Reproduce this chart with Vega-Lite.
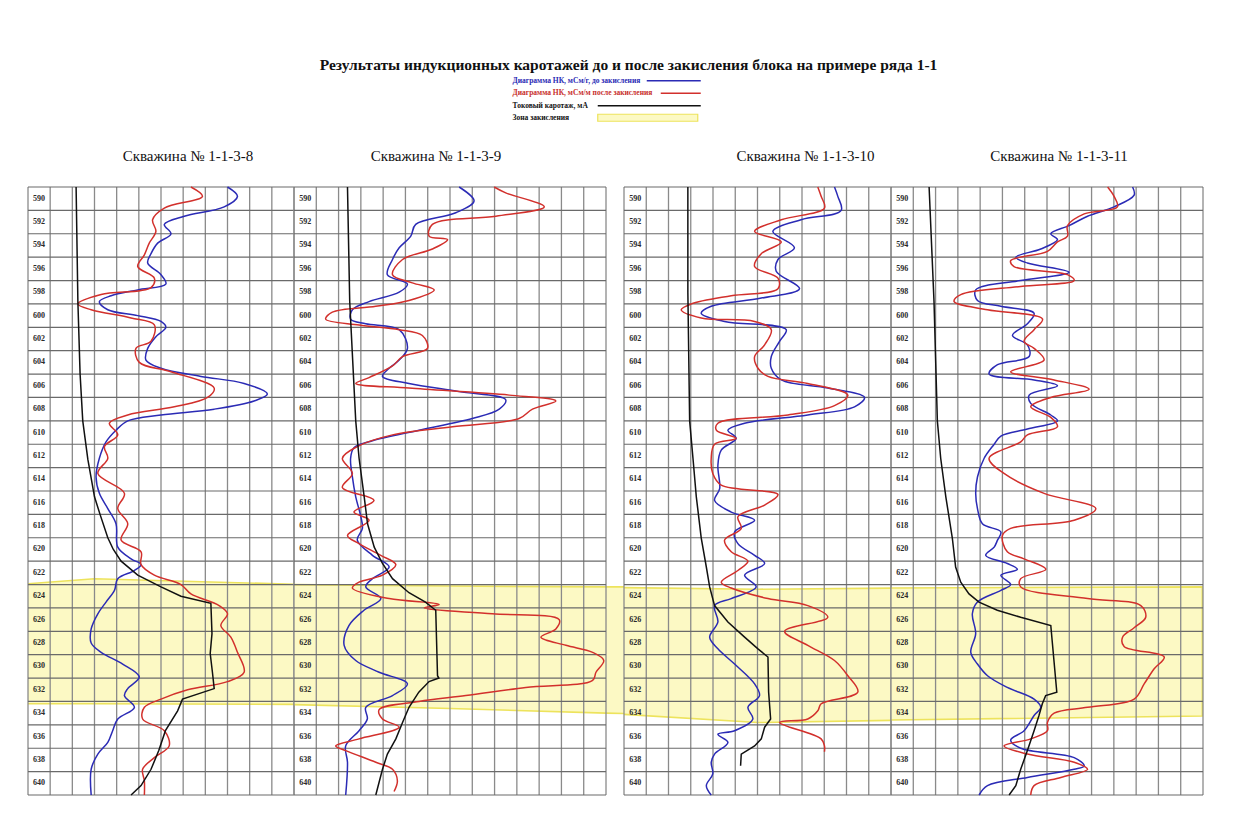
{
  "$schema": "https://vega.github.io/schema/vega-lite/v6.json",
  "padding": {"left": 27, "top": 57, "right": 0, "bottom": 0},
  "background": "white",
  "title": {
    "text": "Результаты индукционных каротажей до и после закисления блока на примере ряда 1-1",
    "font": "Liberation Serif", "fontSize": 15.5, "fontWeight": "bold", "color": "#111111",
    "anchor": "middle", "dx": 13, "offset": 4
  },
  "config": {
    "view": {"stroke": null},
    "title": {"font": "Liberation Serif", "fontSize": 15, "fontWeight": "normal", "color": "#111111", "offset": 20}
  },
  "resolve": {"scale": {"stroke": "shared", "fill": "shared"}, "legend": {"stroke": "shared", "fill": "shared"}},
  "spacing": 0,
  "bounds": "flush",
  "datasets": {
    "depth_labels": [
      {"depth": 590}, {"depth": 592}, {"depth": 594}, {"depth": 596}, {"depth": 598}, {"depth": 600},
      {"depth": 602}, {"depth": 604}, {"depth": 606}, {"depth": 608}, {"depth": 610}, {"depth": 612},
      {"depth": 614}, {"depth": 616}, {"depth": 618}, {"depth": 620}, {"depth": 622}, {"depth": 624},
      {"depth": 626}, {"depth": 628}, {"depth": 630}, {"depth": 632}, {"depth": 634}, {"depth": 636},
      {"depth": 638}, {"depth": 640}
    ],
    "row_lines": [
      {"depth": 589}, {"depth": 591}, {"depth": 593}, {"depth": 595}, {"depth": 597}, {"depth": 599},
      {"depth": 601}, {"depth": 603}, {"depth": 605}, {"depth": 607}, {"depth": 609}, {"depth": 611},
      {"depth": 613}, {"depth": 615}, {"depth": 617}, {"depth": 619}, {"depth": 621}, {"depth": 623},
      {"depth": 625}, {"depth": 627}, {"depth": 629}, {"depth": 631}, {"depth": 633}, {"depth": 635},
      {"depth": 637}, {"depth": 639}, {"depth": 641}
    ],
    "cols_12": [
      {"col": 0}, {"col": 1}, {"col": 2}, {"col": 3}, {"col": 4}, {"col": 5}, {"col": 6},
      {"col": 7}, {"col": 8}, {"col": 9}, {"col": 10}, {"col": 11}, {"col": 12}
    ],
    "cols_14": [
      {"col": 0}, {"col": 1}, {"col": 2}, {"col": 3}, {"col": 4}, {"col": 5}, {"col": 6},
      {"col": 7}, {"col": 8}, {"col": 9}, {"col": 10}, {"col": 11}, {"col": 12}, {"col": 13}, {"col": 14}
    ],
    "zone_8": [
      {"pos": -0.5, "top": 623.0, "bottom": 633.2},
      {"pos": 3, "top": 622.5, "bottom": 633.2},
      {"pos": 12.5, "top": 623.0, "bottom": 633.25}
    ],
    "zone_9": [
      {"pos": -0.5, "top": 623.0, "bottom": 633.25},
      {"pos": 7, "top": 623.13, "bottom": 633.6},
      {"pos": 14, "top": 623.2, "bottom": 634.0},
      {"pos": 15.5, "top": 623.2, "bottom": 634.05}
    ],
    "zone_10": [
      {"pos": -0.5, "top": 623.25, "bottom": 634.05},
      {"pos": 6, "top": 623.4, "bottom": 634.8},
      {"pos": 12.5, "top": 623.3, "bottom": 634.6}
    ],
    "zone_11": [
      {"pos": -0.5, "top": 623.3, "bottom": 634.6},
      {"pos": 13.97, "top": 623.2, "bottom": 634.25}
    ],
    "w8_before": [
      {"depth": 589, "value": 9.0}, {"depth": 589.8, "value": 9.45}, {"depth": 590.7, "value": 8.85},
      {"depth": 591.5, "value": 7.05}, {"depth": 592.2, "value": 6.15}, {"depth": 593, "value": 6.45},
      {"depth": 593.8, "value": 5.85}, {"depth": 594.7, "value": 5.55}, {"depth": 595.5, "value": 5.4},
      {"depth": 596.5, "value": 6.0}, {"depth": 597.3, "value": 6.22}, {"depth": 597.8, "value": 4.95},
      {"depth": 598.3, "value": 3.75}, {"depth": 598.8, "value": 3.22}, {"depth": 599.5, "value": 3.6},
      {"depth": 600, "value": 4.95}, {"depth": 600.5, "value": 6.0}, {"depth": 601, "value": 6.22},
      {"depth": 601.8, "value": 5.77}, {"depth": 602.8, "value": 5.4}, {"depth": 603.8, "value": 5.32},
      {"depth": 604.5, "value": 6.0}, {"depth": 605.2, "value": 7.8}, {"depth": 605.8, "value": 9.75},
      {"depth": 606.7, "value": 10.8}, {"depth": 607.3, "value": 10.2}, {"depth": 608, "value": 8.4},
      {"depth": 608.5, "value": 6.0}, {"depth": 609, "value": 4.5}, {"depth": 609.8, "value": 3.97},
      {"depth": 610.8, "value": 3.52}, {"depth": 612.2, "value": 3.22}, {"depth": 613.8, "value": 3.07},
      {"depth": 615.2, "value": 3.22}, {"depth": 616.5, "value": 3.6}, {"depth": 617.8, "value": 3.97},
      {"depth": 619.8, "value": 4.05}, {"depth": 620.8, "value": 4.65}, {"depth": 621.3, "value": 5.1},
      {"depth": 621.8, "value": 4.8}, {"depth": 622.5, "value": 4.05}, {"depth": 623.5, "value": 3.9},
      {"depth": 624.5, "value": 3.52}, {"depth": 625.5, "value": 3.15}, {"depth": 626.8, "value": 2.85},
      {"depth": 628, "value": 2.85}, {"depth": 628.8, "value": 3.3}, {"depth": 629.8, "value": 4.27},
      {"depth": 630.9, "value": 5.02}, {"depth": 631.9, "value": 4.5}, {"depth": 632.5, "value": 4.35},
      {"depth": 633.5, "value": 4.8}, {"depth": 634.5, "value": 4.05}, {"depth": 635.5, "value": 3.82},
      {"depth": 636.5, "value": 3.6}, {"depth": 637.5, "value": 3.15}, {"depth": 638.8, "value": 2.85},
      {"depth": 641, "value": 2.85}
    ],
    "w8_after": [
      {"depth": 589, "value": 7.35}, {"depth": 589.8, "value": 7.87}, {"depth": 590.8, "value": 6.15},
      {"depth": 591.8, "value": 5.62}, {"depth": 592.8, "value": 5.77}, {"depth": 593.8, "value": 5.47},
      {"depth": 594.8, "value": 5.25}, {"depth": 595.8, "value": 4.95}, {"depth": 596.8, "value": 5.7},
      {"depth": 597.6, "value": 5.55}, {"depth": 598.2, "value": 3.3}, {"depth": 599, "value": 2.25},
      {"depth": 599.5, "value": 2.85}, {"depth": 600.2, "value": 4.65}, {"depth": 600.8, "value": 5.7},
      {"depth": 602.2, "value": 5.55}, {"depth": 602.8, "value": 4.87}, {"depth": 604, "value": 5.02},
      {"depth": 604.8, "value": 6.45}, {"depth": 606.2, "value": 8.4}, {"depth": 607, "value": 8.1},
      {"depth": 607.8, "value": 6.6}, {"depth": 608.5, "value": 4.5}, {"depth": 609.2, "value": 3.67},
      {"depth": 610.2, "value": 4.05}, {"depth": 611.2, "value": 3.45}, {"depth": 612.2, "value": 3.6},
      {"depth": 613.5, "value": 3.15}, {"depth": 615.2, "value": 4.35}, {"depth": 616.5, "value": 4.05},
      {"depth": 617.8, "value": 4.5}, {"depth": 619.2, "value": 4.2}, {"depth": 620.2, "value": 5.1},
      {"depth": 621.3, "value": 5.1}, {"depth": 622.2, "value": 5.7}, {"depth": 623, "value": 6.9},
      {"depth": 623.8, "value": 7.35}, {"depth": 624.8, "value": 8.62}, {"depth": 625.5, "value": 9.0},
      {"depth": 626.5, "value": 8.7}, {"depth": 627.5, "value": 9.15}, {"depth": 628.8, "value": 9.45},
      {"depth": 630.5, "value": 9.75}, {"depth": 631.3, "value": 9.0}, {"depth": 632, "value": 7.2},
      {"depth": 632.8, "value": 6.0}, {"depth": 633.5, "value": 5.25}, {"depth": 634.5, "value": 5.17},
      {"depth": 635.5, "value": 6.15}, {"depth": 636.8, "value": 6.37}, {"depth": 637.8, "value": 5.7},
      {"depth": 638.8, "value": 5.17}, {"depth": 639.8, "value": 5.25}, {"depth": 641, "value": 5.25}
    ],
    "w8_current": [
      {"depth": 589, "value": 2.17}, {"depth": 598.8, "value": 2.25}, {"depth": 605, "value": 2.35},
      {"depth": 609, "value": 2.47}, {"depth": 612.3, "value": 2.7}, {"depth": 615.5, "value": 3.0},
      {"depth": 617, "value": 3.25}, {"depth": 619, "value": 3.6}, {"depth": 620, "value": 3.85},
      {"depth": 621, "value": 4.2}, {"depth": 622.2, "value": 4.95}, {"depth": 623.2, "value": 6.0},
      {"depth": 624, "value": 6.9}, {"depth": 624.6, "value": 8.25}, {"depth": 627.2, "value": 8.3},
      {"depth": 628.9, "value": 8.22}, {"depth": 630.5, "value": 8.32}, {"depth": 631.9, "value": 8.4},
      {"depth": 632.8, "value": 6.97}, {"depth": 633.8, "value": 6.75}, {"depth": 635.5, "value": 6.2},
      {"depth": 637.2, "value": 5.9}, {"depth": 638.8, "value": 5.55}, {"depth": 640.2, "value": 5.1},
      {"depth": 641, "value": 4.65}
    ],
    "w9_before": [
      {"depth": 589, "value": 7.41}, {"depth": 590.2, "value": 8.08}, {"depth": 591.2, "value": 7.26},
      {"depth": 592.2, "value": 5.46}, {"depth": 593.2, "value": 5.24}, {"depth": 594.2, "value": 4.72},
      {"depth": 595.2, "value": 4.42}, {"depth": 596.5, "value": 4.19}, {"depth": 597.3, "value": 5.09},
      {"depth": 598, "value": 4.72}, {"depth": 598.8, "value": 3.37}, {"depth": 599.5, "value": 2.62},
      {"depth": 600.3, "value": 2.54}, {"depth": 600.7, "value": 3.22}, {"depth": 601.2, "value": 4.72},
      {"depth": 602.8, "value": 5.09}, {"depth": 603.8, "value": 4.72}, {"depth": 604.5, "value": 4.27},
      {"depth": 605.2, "value": 3.97}, {"depth": 605.8, "value": 5.16}, {"depth": 606.5, "value": 7.41},
      {"depth": 607.2, "value": 9.5}, {"depth": 608, "value": 9.21}, {"depth": 608.8, "value": 8.0},
      {"depth": 609.8, "value": 5.61}, {"depth": 610.7, "value": 3.52}, {"depth": 611.3, "value": 2.69},
      {"depth": 612.2, "value": 2.54}, {"depth": 613.8, "value": 2.62}, {"depth": 615.5, "value": 2.77},
      {"depth": 617.2, "value": 3.0}, {"depth": 618.2, "value": 3.07}, {"depth": 619.2, "value": 2.84},
      {"depth": 620.5, "value": 3.52}, {"depth": 621.5, "value": 4.27}, {"depth": 622.5, "value": 3.52},
      {"depth": 623.2, "value": 3.22}, {"depth": 624.2, "value": 3.9}, {"depth": 625.2, "value": 3.14},
      {"depth": 626.5, "value": 2.47}, {"depth": 628.2, "value": 2.25}, {"depth": 629.5, "value": 2.77},
      {"depth": 630.5, "value": 3.82}, {"depth": 631.5, "value": 5.09}, {"depth": 632.5, "value": 4.42},
      {"depth": 633.5, "value": 3.22}, {"depth": 634.5, "value": 3.29}, {"depth": 635.5, "value": 2.92},
      {"depth": 636.8, "value": 2.32}, {"depth": 638.2, "value": 2.4}, {"depth": 641, "value": 2.32}
    ],
    "w9_after": [
      {"depth": 589, "value": 8.98}, {"depth": 589.5, "value": 9.5}, {"depth": 590.7, "value": 11.23},
      {"depth": 591.5, "value": 9.06}, {"depth": 592.2, "value": 6.21}, {"depth": 593.2, "value": 6.06},
      {"depth": 593.5, "value": 6.89}, {"depth": 594.3, "value": 6.21}, {"depth": 595.2, "value": 4.87},
      {"depth": 596.5, "value": 4.42}, {"depth": 597.2, "value": 5.31}, {"depth": 597.8, "value": 6.29},
      {"depth": 598.7, "value": 5.16}, {"depth": 599.2, "value": 3.67}, {"depth": 599.7, "value": 1.72},
      {"depth": 600.3, "value": 1.42}, {"depth": 600.8, "value": 2.92}, {"depth": 601.2, "value": 4.72},
      {"depth": 601.7, "value": 5.76}, {"depth": 602.8, "value": 5.99}, {"depth": 603.5, "value": 4.87},
      {"depth": 604.3, "value": 4.42}, {"depth": 605.3, "value": 3.37}, {"depth": 605.8, "value": 2.77},
      {"depth": 606.2, "value": 5.16}, {"depth": 606.8, "value": 9.66}, {"depth": 607.3, "value": 11.75},
      {"depth": 608, "value": 10.7}, {"depth": 608.8, "value": 10.1}, {"depth": 609.5, "value": 7.11},
      {"depth": 610.2, "value": 4.42}, {"depth": 611.2, "value": 2.84}, {"depth": 612.2, "value": 2.17},
      {"depth": 613.5, "value": 2.62}, {"depth": 614.7, "value": 2.17}, {"depth": 615.8, "value": 3.59},
      {"depth": 616.8, "value": 2.69}, {"depth": 617.5, "value": 3.37}, {"depth": 618.8, "value": 2.4},
      {"depth": 619.5, "value": 2.92}, {"depth": 620.5, "value": 3.89}, {"depth": 621.3, "value": 4.57},
      {"depth": 622.2, "value": 3.97}, {"depth": 622.8, "value": 2.92}, {"depth": 623.3, "value": 2.62},
      {"depth": 624.2, "value": 4.27}, {"depth": 624.7, "value": 6.51}, {"depth": 625, "value": 5.84},
      {"depth": 625.5, "value": 8.9}, {"depth": 626, "value": 11.9}, {"depth": 626.8, "value": 11.75},
      {"depth": 627.5, "value": 11.08}, {"depth": 628.2, "value": 12.2}, {"depth": 628.8, "value": 13.4},
      {"depth": 629.5, "value": 13.9}, {"depth": 630.5, "value": 13.55}, {"depth": 631.2, "value": 13.4},
      {"depth": 631.8, "value": 10.4}, {"depth": 632.5, "value": 7.71}, {"depth": 633, "value": 5.61},
      {"depth": 633.7, "value": 3.82}, {"depth": 634.5, "value": 3.97}, {"depth": 635.2, "value": 4.72},
      {"depth": 636.2, "value": 2.92}, {"depth": 636.8, "value": 1.87}, {"depth": 637.2, "value": 2.32},
      {"depth": 638.2, "value": 3.67}, {"depth": 638.8, "value": 4.42}, {"depth": 639.8, "value": 4.64},
      {"depth": 640.7, "value": 4.49}
    ],
    "w9_current": [
      {"depth": 589, "value": 2.4}, {"depth": 598.8, "value": 2.5}, {"depth": 609, "value": 2.77},
      {"depth": 612.2, "value": 2.92}, {"depth": 615.5, "value": 3.15}, {"depth": 617.8, "value": 3.3},
      {"depth": 619.8, "value": 3.6}, {"depth": 621.2, "value": 3.97}, {"depth": 622.5, "value": 4.42},
      {"depth": 623.7, "value": 5.16}, {"depth": 624.5, "value": 5.9}, {"depth": 625.2, "value": 6.36},
      {"depth": 630.8, "value": 6.44}, {"depth": 631, "value": 6.5}, {"depth": 631.3, "value": 6.06},
      {"depth": 632.2, "value": 5.6}, {"depth": 633.5, "value": 5.16}, {"depth": 634.8, "value": 4.87},
      {"depth": 636.2, "value": 4.57}, {"depth": 637.5, "value": 4.19}, {"depth": 638.8, "value": 3.97},
      {"depth": 641, "value": 3.67}
    ],
    "w10_before": [
      {"depth": 589, "value": 9.46}, {"depth": 589.8, "value": 9.61}, {"depth": 591, "value": 9.76},
      {"depth": 591.8, "value": 7.96}, {"depth": 592.8, "value": 6.69}, {"depth": 594.2, "value": 7.66},
      {"depth": 595.2, "value": 6.92}, {"depth": 596.2, "value": 6.84}, {"depth": 597.7, "value": 7.89},
      {"depth": 598.5, "value": 6.17}, {"depth": 599.2, "value": 3.92}, {"depth": 599.8, "value": 3.47},
      {"depth": 600.5, "value": 4.52}, {"depth": 601.2, "value": 7.29}, {"depth": 602.2, "value": 6.99},
      {"depth": 603.5, "value": 6.62}, {"depth": 604.5, "value": 6.62}, {"depth": 605.5, "value": 7.07},
      {"depth": 606.2, "value": 9.16}, {"depth": 607, "value": 10.81}, {"depth": 607.8, "value": 10.36},
      {"depth": 608.5, "value": 8.26}, {"depth": 609.2, "value": 5.42}, {"depth": 609.8, "value": 4.67},
      {"depth": 610.5, "value": 5.04}, {"depth": 611.5, "value": 4.37}, {"depth": 612.8, "value": 4.22},
      {"depth": 614.8, "value": 4.3}, {"depth": 615.8, "value": 4.07}, {"depth": 616.8, "value": 4.82},
      {"depth": 617.5, "value": 5.87}, {"depth": 618.5, "value": 4.97}, {"depth": 619.5, "value": 5.12},
      {"depth": 620.5, "value": 5.87}, {"depth": 621.2, "value": 6.32}, {"depth": 622.2, "value": 5.42},
      {"depth": 623.2, "value": 5.94}, {"depth": 624.2, "value": 4.82}, {"depth": 624.8, "value": 4.07},
      {"depth": 626.2, "value": 4.22}, {"depth": 627.5, "value": 3.85}, {"depth": 628.5, "value": 4.22},
      {"depth": 629.8, "value": 4.97}, {"depth": 631.5, "value": 5.87}, {"depth": 632.5, "value": 6.09},
      {"depth": 633.5, "value": 5.57}, {"depth": 634.5, "value": 5.79}, {"depth": 635.5, "value": 4.97},
      {"depth": 635.8, "value": 4.22}, {"depth": 636.5, "value": 4.67}, {"depth": 637.5, "value": 4.07},
      {"depth": 638.2, "value": 3.92}, {"depth": 639.2, "value": 3.99}, {"depth": 640.2, "value": 3.7},
      {"depth": 641, "value": 3.92}
    ],
    "w10_after": [
      {"depth": 589, "value": 8.71}, {"depth": 589.8, "value": 8.86}, {"depth": 590.8, "value": 9.01},
      {"depth": 591.8, "value": 7.07}, {"depth": 592.8, "value": 5.87}, {"depth": 593.7, "value": 7.07},
      {"depth": 594.7, "value": 6.17}, {"depth": 595.8, "value": 5.87}, {"depth": 596.8, "value": 6.92},
      {"depth": 597.7, "value": 6.92}, {"depth": 598.3, "value": 4.82}, {"depth": 599, "value": 3.02},
      {"depth": 599.5, "value": 2.57}, {"depth": 600.2, "value": 3.47}, {"depth": 600.5, "value": 5.87},
      {"depth": 601.2, "value": 6.62}, {"depth": 602.5, "value": 6.32}, {"depth": 603.5, "value": 5.87},
      {"depth": 604.5, "value": 6.02}, {"depth": 605.2, "value": 6.47}, {"depth": 605.8, "value": 8.26},
      {"depth": 606.8, "value": 10.06}, {"depth": 607.7, "value": 9.46}, {"depth": 608.5, "value": 7.37},
      {"depth": 609.2, "value": 4.22}, {"depth": 609.8, "value": 4.15}, {"depth": 610.5, "value": 5.04},
      {"depth": 611, "value": 4.07}, {"depth": 612.2, "value": 3.92}, {"depth": 613.5, "value": 3.99},
      {"depth": 614.5, "value": 4.37}, {"depth": 615.3, "value": 6.92}, {"depth": 616.2, "value": 6.32},
      {"depth": 617.2, "value": 5.12}, {"depth": 618.2, "value": 5.27}, {"depth": 619.2, "value": 4.52},
      {"depth": 620.2, "value": 4.82}, {"depth": 621, "value": 5.57}, {"depth": 621.8, "value": 5.12},
      {"depth": 622.8, "value": 4.37}, {"depth": 623.3, "value": 4.82}, {"depth": 624.2, "value": 6.47},
      {"depth": 624.8, "value": 8.26}, {"depth": 625.8, "value": 9.16}, {"depth": 627, "value": 7.22},
      {"depth": 628.2, "value": 8.26}, {"depth": 629.5, "value": 9.46}, {"depth": 630.8, "value": 10.06},
      {"depth": 632.2, "value": 10.51}, {"depth": 633.2, "value": 8.86}, {"depth": 633.8, "value": 8.71},
      {"depth": 634.5, "value": 8.26}, {"depth": 634.8, "value": 6.99}, {"depth": 636.2, "value": 8.86},
      {"depth": 636.8, "value": 9.01}, {"depth": 637.3, "value": 9.01}
    ],
    "w10_current": [
      {"depth": 589, "value": 2.87}, {"depth": 598, "value": 2.87}, {"depth": 609, "value": 2.95},
      {"depth": 612.2, "value": 3.1}, {"depth": 615.5, "value": 3.25}, {"depth": 619, "value": 3.47},
      {"depth": 621.5, "value": 3.7}, {"depth": 623.2, "value": 3.85}, {"depth": 624.8, "value": 4.07},
      {"depth": 626.2, "value": 4.67}, {"depth": 627.5, "value": 5.42}, {"depth": 628.5, "value": 6.02},
      {"depth": 629.2, "value": 6.47}, {"depth": 632.2, "value": 6.5}, {"depth": 634.5, "value": 6.59},
      {"depth": 635.2, "value": 6.32}, {"depth": 636.2, "value": 6.17}, {"depth": 636.8, "value": 5.87},
      {"depth": 637.5, "value": 5.27}, {"depth": 638.5, "value": 5.24}
    ],
    "w11_before": [
      {"depth": 589, "value": 10.84}, {"depth": 589.7, "value": 10.91}, {"depth": 590.7, "value": 10.01},
      {"depth": 591.5, "value": 8.82}, {"depth": 592.3, "value": 7.99}, {"depth": 593, "value": 7.17},
      {"depth": 593.5, "value": 7.47}, {"depth": 594.3, "value": 6.72}, {"depth": 595, "value": 5.6},
      {"depth": 595.5, "value": 6.12}, {"depth": 596.3, "value": 7.99}, {"depth": 597, "value": 5.82},
      {"depth": 597.8, "value": 3.8}, {"depth": 598.7, "value": 3.88}, {"depth": 599.2, "value": 4.93},
      {"depth": 599.8, "value": 6.42}, {"depth": 600.7, "value": 6.12}, {"depth": 601.7, "value": 5.45},
      {"depth": 602.5, "value": 6.12}, {"depth": 603.5, "value": 6.2}, {"depth": 604.2, "value": 4.78},
      {"depth": 605, "value": 4.4}, {"depth": 605.5, "value": 6.42}, {"depth": 606, "value": 7.47},
      {"depth": 606.8, "value": 6.2}, {"depth": 607.5, "value": 6.27}, {"depth": 608.5, "value": 7.17},
      {"depth": 609, "value": 7.47}, {"depth": 609.7, "value": 6.12}, {"depth": 610.3, "value": 4.93},
      {"depth": 611, "value": 4.63}, {"depth": 612.2, "value": 4.18}, {"depth": 613.8, "value": 3.88},
      {"depth": 615.2, "value": 3.8}, {"depth": 616.5, "value": 3.88}, {"depth": 617.8, "value": 4.1},
      {"depth": 618.5, "value": 4.93}, {"depth": 619.2, "value": 4.78}, {"depth": 619.8, "value": 4.63},
      {"depth": 620.5, "value": 4.25}, {"depth": 621.2, "value": 5.22}, {"depth": 621.7, "value": 5.67},
      {"depth": 622.2, "value": 4.93}, {"depth": 623, "value": 5.37}, {"depth": 623.5, "value": 4.93},
      {"depth": 624.5, "value": 3.88}, {"depth": 625.5, "value": 3.65}, {"depth": 627.2, "value": 3.8},
      {"depth": 628.8, "value": 3.58}, {"depth": 629.8, "value": 3.88}, {"depth": 630.8, "value": 4.33},
      {"depth": 631.8, "value": 5.22}, {"depth": 632.8, "value": 6.42}, {"depth": 633.5, "value": 6.72},
      {"depth": 634.2, "value": 6.42}, {"depth": 635.5, "value": 5.97}, {"depth": 636.3, "value": 5.37},
      {"depth": 637, "value": 5.82}, {"depth": 637.8, "value": 8.22}, {"depth": 638.5, "value": 8.67},
      {"depth": 638.8, "value": 8.22}, {"depth": 639.5, "value": 6.12}, {"depth": 640.2, "value": 4.33},
      {"depth": 641, "value": 3.95}
    ],
    "w11_after": [
      {"depth": 589, "value": 9.72}, {"depth": 589.8, "value": 10.01}, {"depth": 590.7, "value": 10.16},
      {"depth": 591.3, "value": 8.67}, {"depth": 592.3, "value": 7.92}, {"depth": 593.2, "value": 7.92},
      {"depth": 593.7, "value": 7.47}, {"depth": 594.5, "value": 7.02}, {"depth": 595.3, "value": 5.37},
      {"depth": 595.8, "value": 5.52}, {"depth": 596.5, "value": 7.92}, {"depth": 597, "value": 8.22},
      {"depth": 597.5, "value": 5.82}, {"depth": 598.2, "value": 3.13}, {"depth": 598.8, "value": 2.83},
      {"depth": 599.5, "value": 4.33}, {"depth": 600.3, "value": 6.8}, {"depth": 601.2, "value": 6.42},
      {"depth": 602.2, "value": 5.97}, {"depth": 602.8, "value": 6.42}, {"depth": 603.8, "value": 6.87},
      {"depth": 604.8, "value": 5.37}, {"depth": 605.5, "value": 7.32}, {"depth": 606.3, "value": 8.89},
      {"depth": 607, "value": 7.17}, {"depth": 607.8, "value": 6.27}, {"depth": 608.7, "value": 7.17},
      {"depth": 609.5, "value": 7.47}, {"depth": 610.2, "value": 6.12}, {"depth": 610.8, "value": 5.82},
      {"depth": 612.2, "value": 4.4}, {"depth": 613.5, "value": 5.07}, {"depth": 615.2, "value": 6.87},
      {"depth": 616.5, "value": 9.19}, {"depth": 617.5, "value": 8.22}, {"depth": 618.2, "value": 5.37},
      {"depth": 618.8, "value": 5.0}, {"depth": 620.2, "value": 5.22}, {"depth": 620.8, "value": 5.97},
      {"depth": 621.7, "value": 6.95}, {"depth": 622.5, "value": 5.82}, {"depth": 623.2, "value": 5.82},
      {"depth": 624.2, "value": 8.82}, {"depth": 624.8, "value": 11.21}, {"depth": 625.8, "value": 11.43},
      {"depth": 626.7, "value": 10.91}, {"depth": 627.5, "value": 10.39}, {"depth": 628.3, "value": 10.46},
      {"depth": 629.2, "value": 12.26}, {"depth": 630.2, "value": 11.81}, {"depth": 631.5, "value": 11.36},
      {"depth": 632.8, "value": 10.91}, {"depth": 633.5, "value": 8.82}, {"depth": 634, "value": 7.32},
      {"depth": 634.8, "value": 7.02}, {"depth": 635.5, "value": 7.02}, {"depth": 636.2, "value": 6.27},
      {"depth": 636.8, "value": 5.07}, {"depth": 637.5, "value": 6.12}, {"depth": 638.2, "value": 8.22},
      {"depth": 638.8, "value": 8.82}, {"depth": 639.5, "value": 7.62}, {"depth": 640.2, "value": 6.42},
      {"depth": 641, "value": 6.27}
    ],
    "w11_current": [
      {"depth": 589, "value": 1.71}, {"depth": 598.8, "value": 1.93}, {"depth": 609, "value": 2.08},
      {"depth": 612.2, "value": 2.23}, {"depth": 615.5, "value": 2.46}, {"depth": 619, "value": 2.75},
      {"depth": 621.5, "value": 2.9}, {"depth": 622.8, "value": 3.13}, {"depth": 623.8, "value": 3.5},
      {"depth": 624.5, "value": 3.95}, {"depth": 625.2, "value": 4.77}, {"depth": 625.8, "value": 5.82},
      {"depth": 626.5, "value": 7.17}, {"depth": 632.2, "value": 7.44}, {"depth": 632.5, "value": 6.94},
      {"depth": 633.2, "value": 6.79}, {"depth": 634.2, "value": 6.64}, {"depth": 635.5, "value": 6.42},
      {"depth": 637.2, "value": 6.12}, {"depth": 638.8, "value": 5.82}, {"depth": 640.2, "value": 5.6},
      {"depth": 641, "value": 5.3}
    ]
  },
  "hconcat": [
    {
      "width": 266, "height": 608,
      "title": {"text": "Скважина № 1-1-3-8", "dx": 27},
      "layer": [
        {
          "data": {"name": "zone_8"},
          "mark": {"type": "area", "clip": true, "stroke": "#ede35c", "strokeWidth": 1.6},
          "encoding": {
            "x": {"field": "pos", "type": "quantitative", "scale": {"domain": [0, 12], "nice": false, "zero": false}, "axis": null},
            "y": {"field": "top", "type": "quantitative", "scale": {"domain": [589, 641], "reverse": true, "nice": false, "zero": false}, "axis": null},
            "y2": {"field": "bottom"},
            "fill": {
              "datum": "zone",
              "scale": {"domain": ["zone"], "range": ["#fcf9c4"]},
              "legend": {
                "orient": "none", "legendX": 477, "legendY": -73, "title": null,
                "symbolSize": 4, "symbolStrokeWidth": 1.2, "symbolStrokeColor": "#e8df52", "labelOffset": 0,
                "labelFont": "Liberation Serif", "labelFontSize": 7.5, "labelFontWeight": "bold", "labelColor": "#111111",
                "symbolType": "M89,-3.5H189V3.5H89Z",
                "labelExpr": "'Зона закисления'"
              }
            }
          }
        },
        {
          "data": {"name": "cols_12"},
          "mark": {"type": "rule", "color": "#8a8a8a", "strokeWidth": 1.3},
          "encoding": {"x": {"field": "col", "type": "quantitative"}, "y": {"datum": 589}, "y2": {"datum": 641}}
        },
        {
          "data": {"name": "row_lines"},
          "mark": {"type": "rule", "color": "#6a6a6a", "strokeWidth": 1.2},
          "encoding": {"y": {"field": "depth", "type": "quantitative"}, "x": {"datum": 0}, "x2": {"datum": 12}}
        },
        {
          "data": {"name": "depth_labels"},
          "mark": {"type": "text", "font": "Liberation Serif", "fontSize": 8, "fontWeight": "bold", "fill": "#2a2a2a", "color": "#2a2a2a"},
          "encoding": {"y": {"field": "depth", "type": "quantitative"}, "x": {"datum": 0.5}, "text": {"field": "depth"}}
        },
        {
          "data": {"name": "w8_before"}, "mark": {"type": "line", "strokeWidth": 1.5, "interpolate": "catmull-rom"},
          "encoding": {"x": {"field": "value", "type": "quantitative"}, "y": {"field": "depth", "type": "quantitative"}, "order": {"field": "depth"},
            "stroke": {
              "datum": "before",
              "scale": {"domain": ["before", "after", "current"], "range": ["#2b2bb5", "#d2302c", "#111111"]},
              "legend": {
                "orient": "none", "legendX": 477, "legendY": -110, "title": null, "direction": "vertical",
                "symbolSize": 4, "symbolStrokeWidth": 1.5, "labelOffset": 0, "labelLimit": 300,
                "labelFont": "Liberation Serif", "labelFontSize": 7.5, "labelFontWeight": "bold", "rowPadding": 3.5,
                "symbolType": {"expr": "datum.value === 'before' ? 'M138,0H192' : datum.value === 'after' ? 'M152,0H192' : 'M89,0H192'"},
                "labelColor": {"expr": "datum.value === 'before' ? '#2b2bb5' : datum.value === 'after' ? '#c8302c' : '#111111'"},
                "labelExpr": "datum.value === 'before' ? 'Диаграмма НК, мСм/г, до закисления' : datum.value === 'after' ? 'Диаграмма НК, мСм/м после закисления' : 'Токовый каротаж, мА'"
              }
            }}
        },
        {
          "data": {"name": "w8_after"}, "mark": {"type": "line", "strokeWidth": 1.5, "interpolate": "catmull-rom"},
          "encoding": {"x": {"field": "value", "type": "quantitative"}, "y": {"field": "depth", "type": "quantitative"}, "order": {"field": "depth"},
            "stroke": {"datum": "after", "scale": {"domain": ["before", "after", "current"], "range": ["#2b2bb5", "#d2302c", "#111111"]}}}
        },
        {
          "data": {"name": "w8_current"}, "mark": {"type": "line", "strokeWidth": 1.5},
          "encoding": {"x": {"field": "value", "type": "quantitative"}, "y": {"field": "depth", "type": "quantitative"}, "order": {"field": "depth"},
            "stroke": {"datum": "current", "scale": {"domain": ["before", "after", "current"], "range": ["#2b2bb5", "#d2302c", "#111111"]}}}
        }
      ]
    },
    {
      "width": 330, "height": 608,
      "title": {"text": "Скважина № 1-1-3-9", "dx": -23},
      "layer": [
        {
          "data": {"name": "zone_9"},
          "mark": {"type": "area", "clip": true, "stroke": "#ede35c", "strokeWidth": 1.6},
          "encoding": {
            "x": {"field": "pos", "type": "quantitative", "scale": {"domain": [0, 14.8075], "nice": false, "zero": false}, "axis": null},
            "y": {"field": "top", "type": "quantitative", "scale": {"domain": [589, 641], "reverse": true, "nice": false, "zero": false}, "axis": null},
            "y2": {"field": "bottom"},
            "fill": {"datum": "zone", "scale": {"domain": ["zone"], "range": ["#fcf9c4"]}}
          }
        },
        {
          "data": {"name": "cols_14"},
          "mark": {"type": "rule", "color": "#8a8a8a", "strokeWidth": 1.3},
          "encoding": {"x": {"field": "col", "type": "quantitative"}, "y": {"datum": 589}, "y2": {"datum": 641}}
        },
        {
          "data": {"name": "row_lines"},
          "mark": {"type": "rule", "color": "#6a6a6a", "strokeWidth": 1.2},
          "encoding": {"y": {"field": "depth", "type": "quantitative"}, "x": {"datum": 0}, "x2": {"datum": 14}}
        },
        {
          "data": {"name": "depth_labels"},
          "mark": {"type": "text", "font": "Liberation Serif", "fontSize": 8, "fontWeight": "bold", "fill": "#2a2a2a", "color": "#2a2a2a"},
          "encoding": {"y": {"field": "depth", "type": "quantitative"}, "x": {"datum": 0.5}, "text": {"field": "depth"}}
        },
        {
          "data": {"name": "w9_before"}, "mark": {"type": "line", "strokeWidth": 1.5, "interpolate": "catmull-rom"},
          "encoding": {"x": {"field": "value", "type": "quantitative"}, "y": {"field": "depth", "type": "quantitative"}, "order": {"field": "depth"},
            "stroke": {"datum": "before", "scale": {"domain": ["before", "after", "current"], "range": ["#2b2bb5", "#d2302c", "#111111"]}}}
        },
        {
          "data": {"name": "w9_after"}, "mark": {"type": "line", "strokeWidth": 1.5, "interpolate": "catmull-rom"},
          "encoding": {"x": {"field": "value", "type": "quantitative"}, "y": {"field": "depth", "type": "quantitative"}, "order": {"field": "depth"},
            "stroke": {"datum": "after", "scale": {"domain": ["before", "after", "current"], "range": ["#2b2bb5", "#d2302c", "#111111"]}}}
        },
        {
          "data": {"name": "w9_current"}, "mark": {"type": "line", "strokeWidth": 1.5},
          "encoding": {"x": {"field": "value", "type": "quantitative"}, "y": {"field": "depth", "type": "quantitative"}, "order": {"field": "depth"},
            "stroke": {"datum": "current", "scale": {"domain": ["before", "after", "current"], "range": ["#2b2bb5", "#d2302c", "#111111"]}}}
        }
      ]
    },
    {
      "width": 267, "height": 608,
      "title": {"text": "Скважина № 1-1-3-10", "dx": 48},
      "layer": [
        {
          "data": {"name": "zone_10"},
          "mark": {"type": "area", "clip": true, "stroke": "#ede35c", "strokeWidth": 1.6},
          "encoding": {
            "x": {"field": "pos", "type": "quantitative", "scale": {"domain": [0, 12], "nice": false, "zero": false}, "axis": null},
            "y": {"field": "top", "type": "quantitative", "scale": {"domain": [589, 641], "reverse": true, "nice": false, "zero": false}, "axis": null},
            "y2": {"field": "bottom"},
            "fill": {"datum": "zone", "scale": {"domain": ["zone"], "range": ["#fcf9c4"]}}
          }
        },
        {
          "data": {"name": "cols_12"},
          "mark": {"type": "rule", "color": "#8a8a8a", "strokeWidth": 1.3},
          "encoding": {"x": {"field": "col", "type": "quantitative"}, "y": {"datum": 589}, "y2": {"datum": 641}}
        },
        {
          "data": {"name": "row_lines"},
          "mark": {"type": "rule", "color": "#6a6a6a", "strokeWidth": 1.2},
          "encoding": {"y": {"field": "depth", "type": "quantitative"}, "x": {"datum": 0}, "x2": {"datum": 12}}
        },
        {
          "data": {"name": "depth_labels"},
          "mark": {"type": "text", "font": "Liberation Serif", "fontSize": 8, "fontWeight": "bold", "fill": "#2a2a2a", "color": "#2a2a2a"},
          "encoding": {"y": {"field": "depth", "type": "quantitative"}, "x": {"datum": 0.5}, "text": {"field": "depth"}}
        },
        {
          "data": {"name": "w10_before"}, "mark": {"type": "line", "strokeWidth": 1.5, "interpolate": "catmull-rom"},
          "encoding": {"x": {"field": "value", "type": "quantitative"}, "y": {"field": "depth", "type": "quantitative"}, "order": {"field": "depth"},
            "stroke": {"datum": "before", "scale": {"domain": ["before", "after", "current"], "range": ["#2b2bb5", "#d2302c", "#111111"]}}}
        },
        {
          "data": {"name": "w10_after"}, "mark": {"type": "line", "strokeWidth": 1.5, "interpolate": "catmull-rom"},
          "encoding": {"x": {"field": "value", "type": "quantitative"}, "y": {"field": "depth", "type": "quantitative"}, "order": {"field": "depth"},
            "stroke": {"datum": "after", "scale": {"domain": ["before", "after", "current"], "range": ["#2b2bb5", "#d2302c", "#111111"]}}}
        },
        {
          "data": {"name": "w10_current"}, "mark": {"type": "line", "strokeWidth": 1.5},
          "encoding": {"x": {"field": "value", "type": "quantitative"}, "y": {"field": "depth", "type": "quantitative"}, "order": {"field": "depth"},
            "stroke": {"datum": "current", "scale": {"domain": ["before", "after", "current"], "range": ["#2b2bb5", "#d2302c", "#111111"]}}}
        }
      ]
    },
    {
      "width": 312, "height": 608,
      "title": {"text": "Скважина № 1-1-3-11", "dx": 12},
      "layer": [
        {
          "data": {"name": "zone_11"},
          "mark": {"type": "area", "clip": true, "stroke": "#ede35c", "strokeWidth": 1.6},
          "encoding": {
            "x": {"field": "pos", "type": "quantitative", "scale": {"domain": [0, 14], "nice": false, "zero": false}, "axis": null},
            "y": {"field": "top", "type": "quantitative", "scale": {"domain": [589, 641], "reverse": true, "nice": false, "zero": false}, "axis": null},
            "y2": {"field": "bottom"},
            "fill": {"datum": "zone", "scale": {"domain": ["zone"], "range": ["#fcf9c4"]}}
          }
        },
        {
          "data": {"name": "cols_14"},
          "mark": {"type": "rule", "color": "#8a8a8a", "strokeWidth": 1.3},
          "encoding": {"x": {"field": "col", "type": "quantitative"}, "y": {"datum": 589}, "y2": {"datum": 641}}
        },
        {
          "data": {"name": "row_lines"},
          "mark": {"type": "rule", "color": "#6a6a6a", "strokeWidth": 1.2},
          "encoding": {"y": {"field": "depth", "type": "quantitative"}, "x": {"datum": 0}, "x2": {"datum": 14}}
        },
        {
          "data": {"name": "depth_labels"},
          "mark": {"type": "text", "font": "Liberation Serif", "fontSize": 8, "fontWeight": "bold", "fill": "#2a2a2a", "color": "#2a2a2a"},
          "encoding": {"y": {"field": "depth", "type": "quantitative"}, "x": {"datum": 0.5}, "text": {"field": "depth"}}
        },
        {
          "data": {"name": "w11_before"}, "mark": {"type": "line", "strokeWidth": 1.5, "interpolate": "catmull-rom"},
          "encoding": {"x": {"field": "value", "type": "quantitative"}, "y": {"field": "depth", "type": "quantitative"}, "order": {"field": "depth"},
            "stroke": {"datum": "before", "scale": {"domain": ["before", "after", "current"], "range": ["#2b2bb5", "#d2302c", "#111111"]}}}
        },
        {
          "data": {"name": "w11_after"}, "mark": {"type": "line", "strokeWidth": 1.5, "interpolate": "catmull-rom"},
          "encoding": {"x": {"field": "value", "type": "quantitative"}, "y": {"field": "depth", "type": "quantitative"}, "order": {"field": "depth"},
            "stroke": {"datum": "after", "scale": {"domain": ["before", "after", "current"], "range": ["#2b2bb5", "#d2302c", "#111111"]}}}
        },
        {
          "data": {"name": "w11_current"}, "mark": {"type": "line", "strokeWidth": 1.5},
          "encoding": {"x": {"field": "value", "type": "quantitative"}, "y": {"field": "depth", "type": "quantitative"}, "order": {"field": "depth"},
            "stroke": {"datum": "current", "scale": {"domain": ["before", "after", "current"], "range": ["#2b2bb5", "#d2302c", "#111111"]}}}
        }
      ]
    }
  ]
}
